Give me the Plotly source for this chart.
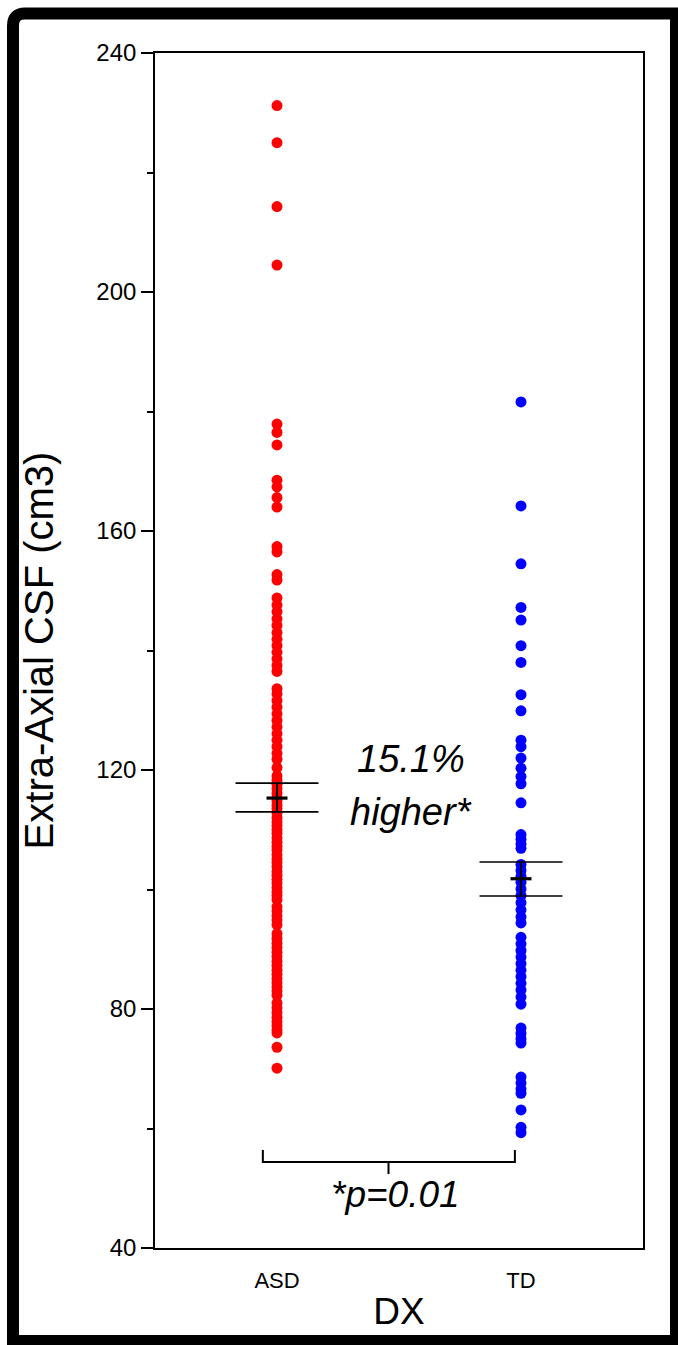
import plotly.graph_objects as go

# ---------------- data ----------------
groups = ["ASD", "TD"]

asd_values = [231.2, 225.0, 214.3, 204.5, 177.9, 176.5, 174.4, 168.5, 167.4, 165.6,
              164.0, 157.4, 156.5, 152.7, 151.8, 148.8, 147.6, 146.5, 145.3, 144.2,
              143.0, 141.9, 140.8, 139.7, 138.6, 137.5, 136.5, 133.6, 132.7, 131.6,
              130.5, 129.4, 128.3, 127.2, 126.1, 125.0, 123.9, 122.8, 121.8, 120.4,
              119.0, 118.3, 117.6, 116.9, 116.1, 115.4, 114.8, 114.1, 113.5, 112.8,
              112.0, 111.3, 110.7, 110.0, 109.4, 108.6, 107.9, 107.2, 106.6, 105.8,
              105.1, 104.5, 103.8, 103.0, 102.4, 101.7, 101.1, 100.3, 99.6, 99.0,
              98.3, 97.1, 96.4, 95.6, 94.9, 94.1, 92.6, 91.8, 91.0, 90.3,
              89.5, 88.8, 88.0, 87.3, 86.5, 85.8, 85.1, 84.4, 83.7, 83.0,
              82.3, 81.0, 80.2, 79.4, 78.6, 77.9, 77.2, 76.5, 76.0, 73.6, 70.1]

td_values = [181.6, 164.2, 154.5, 147.2, 145.1, 140.8, 138.0, 132.6, 129.9, 125.0,
             123.9, 122.0, 120.3, 118.9, 117.7, 114.5, 109.2, 108.4, 107.6, 106.9,
             104.2, 103.2, 102.2, 101.2, 100.1, 99.0, 97.8, 96.6, 95.4, 94.4,
             92.0, 90.9, 89.8, 88.7, 87.6, 86.5, 85.4, 84.3, 83.2, 82.0,
             80.8, 76.8, 75.9, 75.0, 74.3, 68.6, 67.6, 66.6, 65.9, 63.1,
             60.2, 59.3]

group_means = [115.3, 101.8]
se_upper = [117.8, 104.6]
se_lower = [113.0, 98.9]

y_ticks = [40, 80, 120, 160, 200, 240]
y_minor_ticks = [60, 100, 140, 180, 220]

FONT = "Liberation Sans, Arial, Helvetica, sans-serif"

fig = go.Figure()

fig.add_trace(go.Scatter(x=[0] * len(asd_values), y=asd_values, mode="markers",
                         marker=dict(color="#ff0000", size=11, line=dict(width=0)),
                         name="ASD", showlegend=False))
fig.add_trace(go.Scatter(x=[1] * len(td_values), y=td_values, mode="markers",
                         marker=dict(color="#0000ff", size=11, line=dict(width=0)),
                         name="TD", showlegend=False))

# mean and standard-error lines
se_half = 0.17
mean_half = 0.043
for i in range(len(groups)):
    for yv in (se_upper[i], se_lower[i]):
        fig.add_trace(go.Scatter(x=[i - se_half, i + se_half], y=[yv, yv], mode="lines",
                                 line=dict(color="black", width=1.6), showlegend=False,
                                 hoverinfo="skip"))
    fig.add_trace(go.Scatter(x=[i, i], y=[se_lower[i], se_upper[i]], mode="lines",
                             line=dict(color="black", width=2), showlegend=False,
                             hoverinfo="skip"))
    fig.add_trace(go.Scatter(x=[i - mean_half, i + mean_half], y=[group_means[i], group_means[i]],
                             mode="lines", line=dict(color="black", width=3.2),
                             showlegend=False, hoverinfo="skip"))

# significance bracket
bx0, bx1, bxc = -0.058, 0.975, 0.457
by, by_top, by_bot = 54.4, 56.4, 52.4
fig.add_shape(type="path",
              path=f"M {bx0},{by_top} L {bx0},{by} L {bx1},{by} L {bx1},{by_top} "
                   f"M {bxc},{by} L {bxc},{by_bot}",
              xref="x", yref="y", line=dict(color="black", width=2))

fig.add_annotation(x=0.486, y=48.9, xref="x", yref="y", text="<i>*p=0.01</i>",
                   showarrow=False, font=dict(family=FONT, size=37, color="black"))
fig.add_annotation(x=0.551, y=121.8, xref="x", yref="y", text="<i>15.1%</i>",
                   showarrow=False, font=dict(family=FONT, size=38, color="black"))
fig.add_annotation(x=0.551, y=113.0, xref="x", yref="y", text="<i>higher*</i>",
                   showarrow=False, font=dict(family=FONT, size=38, color="black"))

# outer black frame (paper coords; plot area spans x 155..643, y 53..1248 px)
def px(xp):
    return (xp - 155) / 488.0

def py(yp):
    return (1248 - yp) / 1195.0

r = 12
frame_path = (f"M {px(13)},{py(1341)} L {px(13)},{py(13.5 + r)} "
              f"Q {px(13)},{py(13.5)} {px(13 + r)},{py(13.5)} "
              f"L {px(676)},{py(13.5)} L {px(676)},{py(1341)} Z")
fig.add_shape(type="path", path=frame_path, xref="paper", yref="paper",
              line=dict(color="black", width=12))

fig.update_layout(
    width=678, height=1345,
    margin=dict(l=155, r=35, t=53, b=97, autoexpand=False),
    paper_bgcolor="white", plot_bgcolor="white",
    font=dict(family=FONT, color="black"),
    xaxis=dict(range=[-0.5, 1.5], tickvals=[0, 1], ticktext=groups,
               showline=True, mirror=True, linecolor="black", linewidth=1.6,
               ticks="outside", ticklen=12, tickcolor="rgba(0,0,0,0)",
               showgrid=False, zeroline=False,
               tickfont=dict(family=FONT, size=22, color="black"),
               title=dict(text="DX", font=dict(family=FONT, size=37, color="black"),
                          standoff=6)),
    yaxis=dict(range=[40, 240], tickvals=y_ticks,
               showline=True, mirror=True, linecolor="black", linewidth=1.6,
               ticks="outside", ticklen=12, tickwidth=1.6, tickcolor="black",
               minor=dict(tickvals=y_minor_ticks, ticks="outside", ticklen=6,
                          tickwidth=1.6, tickcolor="black", showgrid=False),
               showgrid=False, zeroline=False,
               tickfont=dict(family=FONT, size=24, color="black"),
               title=dict(text="Extra-Axial CSF (cm3)",
                          font=dict(family=FONT, size=40, color="black"),
                          standoff=30)),
)

fig.write_html("out.html")
